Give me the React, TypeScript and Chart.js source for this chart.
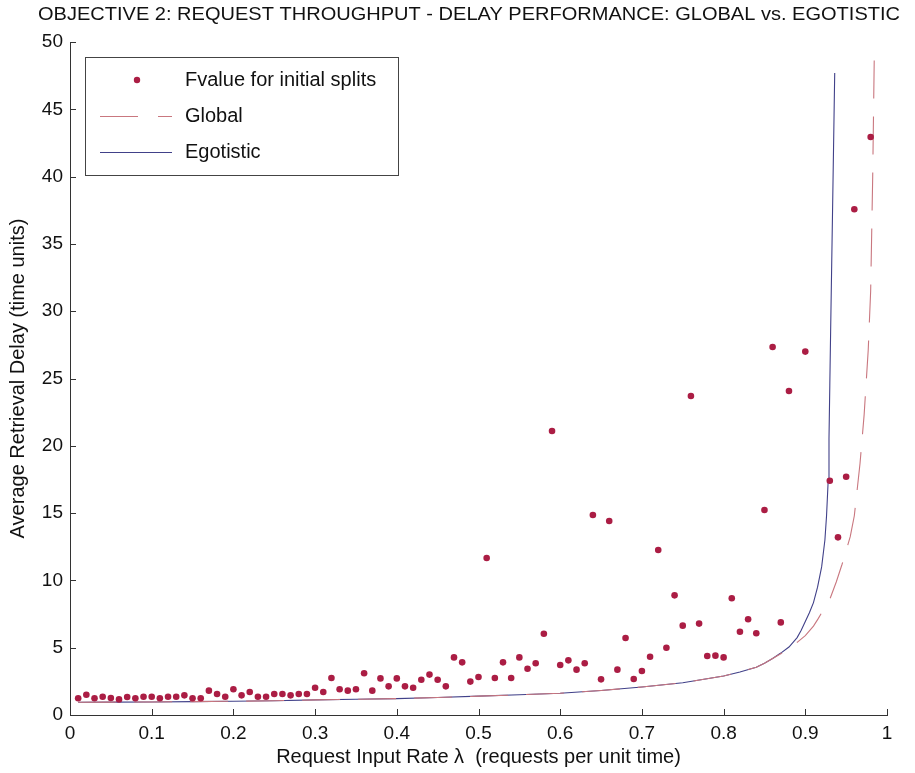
import React, { useEffect, useRef } from 'react';
import { Chart, registerables } from 'chart.js';

Chart.register(...registerables);

const TITLE = 'OBJECTIVE 2: REQUEST THROUGHPUT - DELAY PERFORMANCE: GLOBAL vs. EGOTISTIC';
const X_AXIS_TITLE = 'Request Input Rate \u03bb  (requests per unit time)';
const Y_AXIS_TITLE = 'Average Retrieval Delay (time units)';
const SERIES_NAMES = ['Fvalue for initial splits', 'Global', 'Egotistic'];
const X_TICK_LABELS = ['0', '0.1', '0.2', '0.3', '0.4', '0.5', '0.6', '0.7', '0.8', '0.9', '1'];
const Y_TICK_LABELS = ['0', '5', '10', '15', '20', '25', '30', '35', '40', '45', '50'];

// Fvalue for initial splits (scatter)
const F_X = [
  0.01, 0.02, 0.03, 0.04, 0.05, 0.06, 0.07, 0.08, 0.09, 0.10,
  0.11, 0.12, 0.13, 0.14, 0.15, 0.16, 0.17, 0.18, 0.19, 0.20,
  0.21, 0.22, 0.23, 0.24, 0.25, 0.26, 0.27, 0.28, 0.29, 0.30,
  0.31, 0.32, 0.33, 0.34, 0.35, 0.36, 0.37, 0.38, 0.39, 0.40,
  0.41, 0.42, 0.43, 0.44, 0.45, 0.46, 0.47, 0.48, 0.49, 0.50,
  0.51, 0.52, 0.53, 0.54, 0.55, 0.56, 0.57, 0.58, 0.59, 0.60,
  0.61, 0.62, 0.63, 0.64, 0.65, 0.66, 0.67, 0.68, 0.69, 0.70,
  0.71, 0.72, 0.73, 0.74, 0.75, 0.76, 0.77, 0.78, 0.79, 0.80,
  0.81, 0.82, 0.83, 0.84, 0.85, 0.86, 0.87, 0.88, 0.90,
  0.93, 0.94, 0.95, 0.96, 0.98,
];
const F_Y = [
  1.24, 1.51, 1.24, 1.36, 1.26, 1.16, 1.34, 1.24, 1.36, 1.36,
  1.24, 1.36, 1.36, 1.46, 1.24, 1.24, 1.81, 1.56, 1.36, 1.91,
  1.46, 1.71, 1.36, 1.36, 1.56, 1.56, 1.46, 1.56, 1.56, 2.03,
  1.71, 2.75, 1.91, 1.81, 1.91, 3.10, 1.81, 2.72, 2.13, 2.72,
  2.13, 2.03, 2.62, 3.00, 2.62, 2.13, 4.28, 3.91, 2.48, 2.82,
  11.66, 2.75, 3.91, 2.75, 4.28, 3.44, 3.84, 6.04, 21.1, 3.71,
  4.06, 3.37, 3.84, 14.86, 2.65, 14.41, 3.37, 5.72, 2.67, 3.27,
  4.33, 12.26, 5.0, 8.89, 6.64, 23.7, 6.79, 4.38, 4.41, 4.28,
  8.67, 6.19, 7.11, 6.07, 15.23, 27.34, 6.88, 24.07, 27.0,
  17.4, 13.2, 17.7, 37.57, 42.94,
];

// Egotistic curve
const EGO_X = [
  0.01, 0.05, 0.10, 0.15, 0.20, 0.25, 0.30, 0.35, 0.40, 0.45,
  0.50, 0.55, 0.60, 0.65, 0.70, 0.75, 0.80, 0.82, 0.84, 0.85,
  0.86, 0.87, 0.88, 0.89, 0.895, 0.90, 0.905, 0.91, 0.915, 0.92,
  0.924, 0.926, 0.928, 0.929, 0.930, 0.931, 0.9335, 0.936,
];
const EGO_Y = [
  0.95, 0.96, 0.97, 0.99, 1.02, 1.06, 1.12, 1.17, 1.22, 1.30,
  1.40, 1.50, 1.62, 1.82, 2.08, 2.40, 2.90, 3.20, 3.55, 3.85,
  4.20, 4.60, 5.05, 5.75, 6.30, 6.95, 7.60, 8.35, 9.50, 11.0,
  13.0, 14.8, 17.4, 20.5, 24.5, 28.5, 38.0, 47.7,
];

// Global curve
const GLOBAL_X = [
  0.01, 0.05, 0.10, 0.15, 0.20, 0.25, 0.30, 0.35, 0.40, 0.45,
  0.50, 0.55, 0.60, 0.65, 0.70, 0.75, 0.80, 0.82, 0.84, 0.85,
  0.86, 0.87, 0.88, 0.89, 0.90, 0.905, 0.91, 0.916, 0.92, 0.93,
  0.938, 0.945, 0.955, 0.96, 0.967, 0.972, 0.977, 0.98, 0.9825, 0.9845,
];
const GLOBAL_Y = [
  0.95, 0.96, 0.97, 0.99, 1.02, 1.06, 1.12, 1.17, 1.22, 1.30,
  1.40, 1.50, 1.62, 1.82, 2.08, 2.40, 2.90, 3.20, 3.55, 3.85,
  4.20, 4.55, 4.95, 5.40, 5.90, 6.25, 6.60, 7.18, 7.60, 8.60,
  9.90, 11.2, 13.25, 14.8, 18.7, 22.3, 27.1, 31.5, 40.0, 49.3,
];

const POINT_COLOR = '#ab1d44';
const GLOBAL_COLOR = '#c9777f';
const EGO_COLOR = '#414189';
const AXIS_COLOR = '#333333';
const TEXT_COLOR = '#111111';
const FONT = '"Liberation Sans", Arial, Helvetica, sans-serif';

const titlePlugin = {
  id: 'customTitle',
  afterDraw(chart: any) {
    const ctx = chart.ctx;
    ctx.save();
    ctx.font = `18px ${FONT}`;
    ctx.fillStyle = TEXT_COLOR;
    ctx.textBaseline = 'middle';
    ctx.textAlign = 'left';
    const w = ctx.measureText(TITLE).width;
    const target = 862;
    ctx.translate(38, 15);
    ctx.scale(target / w, 1);
    ctx.fillText(TITLE, 0, 0);
    ctx.restore();
  },
};

const inwardTicksPlugin = {
  id: 'inwardTicks',
  afterDraw(chart: any) {
    const ctx = chart.ctx;
    const xs = chart.scales.x;
    const ys = chart.scales.y;
    const { left, bottom } = chart.chartArea;
    ctx.save();
    ctx.strokeStyle = AXIS_COLOR;
    ctx.lineWidth = 1;
    ctx.beginPath();
    xs.ticks.forEach((t: any) => {
      const px = Math.round(xs.getPixelForValue(t.value)) + 0.5;
      ctx.moveTo(px, bottom);
      ctx.lineTo(px, bottom - 6);
    });
    ys.ticks.forEach((t: any) => {
      const py = Math.round(ys.getPixelForValue(t.value)) + 0.5;
      ctx.moveTo(left, py);
      ctx.lineTo(left + 6, py);
    });
    ctx.stroke();
    ctx.restore();
  },
};

const legendPlugin = {
  id: 'boxLegend',
  afterDraw(chart: any) {
    const ctx = chart.ctx;
    const bx = 85, by = 57, bw = 313, bh = 118;
    ctx.save();
    ctx.fillStyle = '#ffffff';
    ctx.fillRect(bx, by, bw, bh);
    ctx.strokeStyle = '#444';
    ctx.lineWidth = 1;
    ctx.strokeRect(bx + 0.5, by + 0.5, bw, bh);
    const rows = [80, 116, 152];
    const ds = chart.data.datasets;
    ctx.fillStyle = POINT_COLOR;
    ctx.beginPath();
    ctx.arc(137, rows[0], 3.2, 0, Math.PI * 2);
    ctx.fill();
    ctx.strokeStyle = GLOBAL_COLOR;
    ctx.setLineDash([38, 20]);
    ctx.beginPath();
    ctx.moveTo(100, rows[1] + 0.5);
    ctx.lineTo(172, rows[1] + 0.5);
    ctx.stroke();
    ctx.setLineDash([]);
    ctx.strokeStyle = EGO_COLOR;
    ctx.beginPath();
    ctx.moveTo(100, rows[2] + 0.5);
    ctx.lineTo(172, rows[2] + 0.5);
    ctx.stroke();
    ctx.fillStyle = TEXT_COLOR;
    ctx.font = `20px ${FONT}`;
    ctx.textBaseline = 'middle';
    ctx.textAlign = 'left';
    ds.forEach((d: any, i: number) => {
      ctx.fillText(d.label, 185, rows[i]);
    });
    ctx.restore();
  },
};

export default function App() {
  const ref = useRef<HTMLCanvasElement | null>(null);

  useEffect(() => {
    if (!ref.current) return;
    const chart = new Chart(ref.current, {
      type: 'scatter',
      data: {
        datasets: [
          {
            label: SERIES_NAMES[0],
            data: F_X.map((x, i) => ({ x, y: F_Y[i] })),
            backgroundColor: POINT_COLOR,
            borderColor: POINT_COLOR,
            pointRadius: 3.3,
            pointBorderWidth: 0,
            showLine: false,
          },
          {
            label: SERIES_NAMES[1],
            data: GLOBAL_X.map((x, i) => ({ x, y: GLOBAL_Y[i] })),
            borderColor: GLOBAL_COLOR,
            backgroundColor: GLOBAL_COLOR,
            borderWidth: 1.1,
            borderDash: [38, 18],
            pointRadius: 0,
            showLine: true,
            tension: 0,
          },
          {
            label: SERIES_NAMES[2],
            data: EGO_X.map((x, i) => ({ x, y: EGO_Y[i] })),
            borderColor: EGO_COLOR,
            backgroundColor: EGO_COLOR,
            borderWidth: 1.1,
            pointRadius: 0,
            showLine: true,
            tension: 0,
          },
        ],
      },
      options: {
        animation: false,
        responsive: false,
        maintainAspectRatio: false,
        layout: { padding: { top: 42, right: 28, left: 0, bottom: 0 } },
        plugins: {
          legend: { display: false },
          title: { display: false },
          tooltip: { enabled: false },
        },
        scales: {
          x: {
            type: 'linear',
            min: 0,
            max: 1,
            ticks: {
              stepSize: 0.1,
              padding: 7,
              color: TEXT_COLOR,
              font: { family: FONT, size: 19 },
              maxRotation: 0,
              autoSkip: false,
              callback: (_v: any, i: number) => X_TICK_LABELS[i],
            },
            grid: { display: false, drawTicks: false },
            border: { display: true, color: AXIS_COLOR, width: 1 },
            title: {
              display: true,
              text: X_AXIS_TITLE,
              color: TEXT_COLOR,
              font: { family: FONT, size: 20 },
              padding: { top: 0, bottom: 4 },
            },
            afterFit: (s: any) => { s.height = 58; },
          },
          y: {
            type: 'linear',
            min: 0,
            max: 50,
            ticks: {
              stepSize: 5,
              padding: 7,
              color: TEXT_COLOR,
              font: { family: FONT, size: 19 },
              autoSkip: false,
              callback: (_v: any, i: number) => Y_TICK_LABELS[i],
            },
            grid: { display: false, drawTicks: false },
            border: { display: true, color: AXIS_COLOR, width: 1 },
            title: {
              display: true,
              text: Y_AXIS_TITLE,
              color: TEXT_COLOR,
              font: { family: FONT, size: 20 },
              padding: { top: 6, bottom: 0 },
            },
            afterFit: (s: any) => { s.width = 70; },
          },
        },
      },
      plugins: [titlePlugin, inwardTicksPlugin, legendPlugin],
    } as any);
    return () => chart.destroy();
  }, []);

  return (
    <div style={{ position: 'absolute', left: 0, top: 0, width: 915, height: 773, background: '#fff' }}>
      <canvas ref={ref} width={915} height={773} style={{ width: 915, height: 773, display: 'block' }} />
    </div>
  );
}
